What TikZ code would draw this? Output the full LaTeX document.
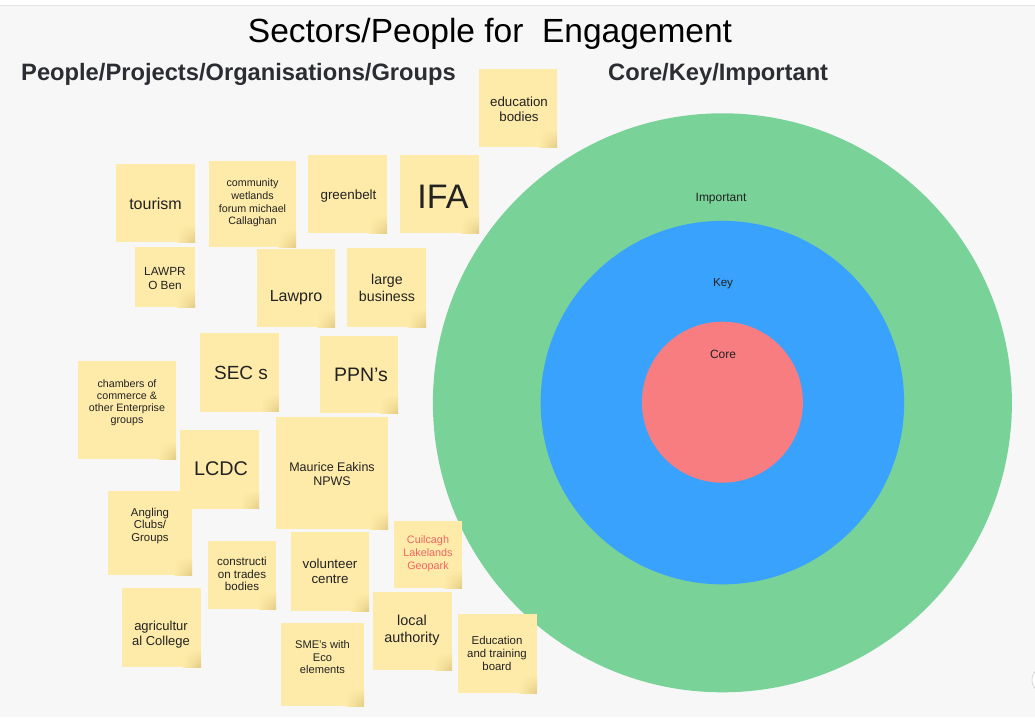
\documentclass[tikz,border=0pt]{standalone}
\usepackage{fontspec}
\usetikzlibrary{shadings}
\setmainfont{Liberation Sans}
\definecolor{bg}{HTML}{F7F7F7}
\definecolor{noteY}{HTML}{FEEBA9}
\definecolor{noteD}{HTML}{E3CB84}
\definecolor{ringG}{HTML}{79D298}
\definecolor{ringB}{HTML}{39A2FD}
\definecolor{ringR}{HTML}{F87D81}
\definecolor{txtc}{HTML}{222222}
\definecolor{headc}{HTML}{2B2D33}
\definecolor{redtxt}{HTML}{EE6663}
\newcommand\fsz[2]{\fontsize{#1}{#2}\selectfont}
\newcommand\stickynote[5]{%
  \pgfmathsetmacro\nw{#4-#2}\pgfmathsetmacro\nh{#5-#3}%
  \node[note, minimum width=\nw pt, minimum height=\nh pt] (#1) at ({(#2+#4)/2},{(#3+#5)/2}) {};
  \shade[upper left=noteY, upper right=noteY, lower left=noteY, lower right=noteD] ({#4-18},{#5-18}) rectangle (#4,#5);
}
\begin{document}
\begin{tikzpicture}[x=1pt,y=-1pt,
  note/.style={rectangle, fill=noteY, draw=none, inner sep=0pt, outer sep=0pt},
  txt/.style={align=center, text=txtc, inner sep=0pt},
  ring/.style={circle, draw=none, inner sep=0pt, outer sep=0pt},
  ringlabel/.style={text=txtc, inner sep=0pt, font=\fsz{12}{14}}]
\useasboundingbox (0,0) rectangle (1035,717);
\clip (0,0) rectangle (1035,717);
\fill[bg] (0,0) rectangle (1035,717);
\fill[white] (0,0) rectangle (1035,5.5);
\draw[line width=0.8pt, draw={rgb,255:red,228;green,228;blue,228}] (0,5.8) -- (1035,5.8);
% bottom-right UI circle
\draw[fill=white, draw={rgb,255:red,215;green,215;blue,215}, line width=0.8pt] (1046,680) circle (14);

% titles
\node[anchor=base, inner sep=0pt, text=black, font=\fsz{33.5}{40}] (title) at (490,42) {Sectors/People for~~Engagement};
\node[anchor=base west, inner sep=0pt, text=headc, font=\fsz{23.7}{28}\bfseries] (lefthead) at (21,80) {People/Projects/Organisations/Groups};
\node[anchor=base west, inner sep=0pt, text=headc, font=\fsz{23.7}{28}\bfseries] (righthead) at (608,80) {Core/Key/Important};

% rings
\node[ring, fill=ringG, minimum size=579pt] (important) at (722.4,402.8) {};
\node[ring, fill=ringB, minimum size=363.5pt] (key) at (722.4,402.6) {};
\node[ring, fill=ringR, minimum size=161pt] (core) at (722.4,402.2) {};
\node[ringlabel] (important-t) at (721,199) {Important};
\node[ringlabel, font=\fsz{11.6}{14}] (key-t) at (723,283.5) {Key};
\node[ringlabel] (core-t) at (723,354) {Core};

% sticky notes
\stickynote{edu}{479}{69}{557}{147}
\node[txt, font=\fsz{13.3}{15}] (edu-t) at (519,109.5) {education\\bodies};
\stickynote{tourism}{116}{164}{195}{242}
\node[txt, font=\fsz{16}{19}] (tourism-t) at (155.5,204) {tourism};
\stickynote{wetlands}{209}{161}{296}{247}
\node[txt, font=\fsz{10.7}{12.7}] (wetlands-t) at (252.5,203) {community\\wetlands\\forum michael\\Callaghan};
\stickynote{greenbelt}{308}{155}{387}{233}
\node[txt, font=\fsz{13.4}{16}] (greenbelt-t) at (348.5,196) {greenbelt};
\stickynote{ifa}{400}{155}{479}{233}
\node[txt, font=\fsz{34}{40}] (ifa-t) at (443,197) {IFA};
\stickynote{lawproben}{135}{247}{195}{307}
\node[txt, font=\fsz{11.8}{14}] (lawproben-t) at (165,278) {LAWPR\\O Ben};
\stickynote{lawpro}{257}{249}{335}{327}
\node[txt, font=\fsz{16}{19}] (lawpro-t) at (296,298) {Lawpro};
\stickynote{largebiz}{347}{248}{426}{327}
\node[txt, font=\fsz{14.2}{16.7}] (largebiz-t) at (387,288) {large\\business};
\stickynote{secs}{200}{333}{278.7}{411.7}
\node[txt, font=\fsz{19}{22}] (secs-t) at (241,373) {SEC s};
\stickynote{ppns}{320}{336}{398}{413}
\node[txt, font=\fsz{19.5}{22}] (ppns-t) at (361,375) {PPN’s};
\stickynote{chambers}{78}{361}{176}{459}
\node[txt, font=\fsz{10.7}{12}] (chambers-t) at (127,402.5) {chambers of\\commerce \&\\other Enterprise\\groups};
\stickynote{angling}{108}{491}{192}{575}
\node[txt, font=\fsz{11.4}{12.5}] (angling-t) at (150,526) {Angling\\Clubs/\\Groups};
\stickynote{lcdc}{180}{430}{259}{508.7}
\node[txt, font=\fsz{19.8}{23}] (lcdc-t) at (221,469) {LCDC};
\stickynote{npws}{276}{417}{388}{529}
\node[txt, font=\fsz{12.5}{14}] (npws-t) at (332,474) {Maurice Eakins\\NPWS};
\stickynote{construction}{208}{541}{276}{609}
\node[txt, font=\fsz{11.6}{12.5}] (construction-t) at (242,574) {constructi\\on trades\\bodies};
\stickynote{volunteer}{291}{532}{369}{611}
\node[txt, font=\fsz{13.3}{15}] (volunteer-t) at (330,571.5) {volunteer\\centre};
\stickynote{geopark}{394}{521}{462}{588}
\node[txt, text=redtxt, font=\fsz{10.8}{13}] (geopark-t) at (428,554) {Cuilcagh\\Lakelands\\Geopark};
\stickynote{agri}{122}{588}{201}{667}
\node[txt, font=\fsz{13}{15}] (agri-t) at (161,635) {agricultur\\al College};
\stickynote{sme}{281}{623}{364}{706}
\node[txt, font=\fsz{11.1}{12.5}] (sme-t) at (322.5,657.5) {SME's with\\Eco\\elements};
\stickynote{localauth}{373}{592}{452}{670}
\node[txt, font=\fsz{14.4}{17}] (localauth-t) at (412,630.5) {local\\authority};
\stickynote{etb}{458}{614}{537}{693}
\node[txt, font=\fsz{11.4}{13}] (etb-t) at (497,653) {Education\\and training\\board};
\end{tikzpicture}
\end{document}
